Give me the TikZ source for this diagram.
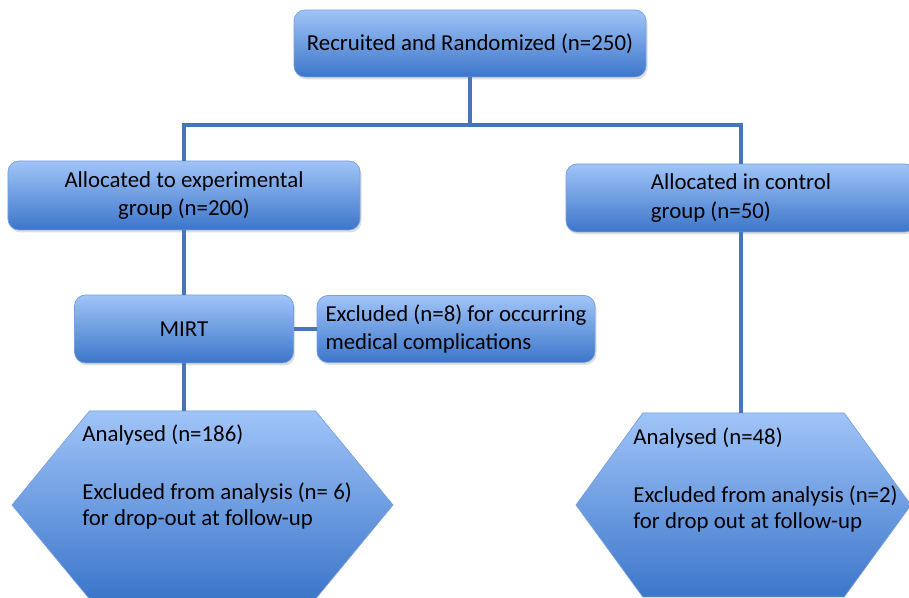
\documentclass[tikz,border=0pt]{standalone}
\usepackage{fontspec}
\setmainfont{Carlito}
\usetikzlibrary{shapes.symbols, shadows}
\definecolor{boxtop}{RGB}{160,196,248}
\definecolor{boxbot}{RGB}{60,118,202}
\definecolor{boxline}{RGB}{120,160,222}
\definecolor{linkcol}{RGB}{70,118,184}

\begin{document}
\begin{tikzpicture}
      % Node style
      \tikzset{
        box/.style={draw=boxline, rounded corners=0.22cm, top color=boxtop, bottom color=boxbot,
          drop shadow={opacity=0.25, shadow xshift=0.03cm, shadow yshift=-0.05cm},
          font=\fontsize{13}{16}\selectfont, inner sep=0pt},
        hexbox/.style={draw=boxline, signal, signal to=east and west, top color=boxtop, bottom color=boxbot,
          inner sep=0pt},
        hextext/.style={anchor=north west, align=left, inner sep=0pt, font=\fontsize{13}{15}\selectfont},
        link/.style={draw=linkcol, line width=1.9pt},
      }
      \useasboundingbox (0,0) rectangle (18.18,11.96);
      % Nodes
      \node (recruit) [box, minimum width=7.04cm, minimum height=1.34cm] at (9.40,11.09) {Recruited and Randomized (n=250)};
      \node (expgroup) [box, minimum width=7.04cm, minimum height=1.38cm, align=center] at (3.68,8.05) {Allocated to experimental\\group (n=200)};
      \node (ctrlgroup) [box, minimum width=7.0cm, minimum height=1.36cm, align=left] at (14.82,8.00) {Allocated in control\\group (n=50)};
      \node (mirt) [box, minimum width=4.38cm, minimum height=1.36cm] at (3.68,5.38) {MIRT};
      \node (medexcl) [box, minimum width=5.56cm, minimum height=1.34cm, align=left] at (9.12,5.38) {Excluded (n=8) for occurring\\medical complications};
      \node (hexexp) [hexbox, minimum width=7.62cm, minimum height=3.76cm, signal pointer angle=101] at (4.05,1.86) {};
      \node (hexctrl) [hexbox, minimum width=6.70cm, minimum height=3.68cm, signal pointer angle=108] at (14.87,1.86) {};
      \node (hexexptext) [hextext] at (1.64,3.47) {Analysed (n=186)\\[18pt]Excluded from analysis (n= 6)\\for drop-out at follow-up};
      \node (hexctrltext) [hextext] at (12.66,3.42) {Analysed (n=48)\\[18pt]Excluded from analysis (n=2)\\for drop out at follow-up};
      % Lines
      \coordinate (split) at (9.40,9.46);
      \draw[link] (recruit.south) -- (split);
      \draw[link] (split) -| (expgroup.north);
      \draw[link] (split) -| (ctrlgroup.north);
      \draw[link] (expgroup.south) -- (mirt.north);
      \draw[link] (mirt.east) -- (medexcl.west);
      \draw[link] (mirt.south) -- (mirt.south |- hexexp.north);
      \draw[link] (ctrlgroup.south) -- (ctrlgroup.south |- hexctrl.north);
\end{tikzpicture}
\end{document}
